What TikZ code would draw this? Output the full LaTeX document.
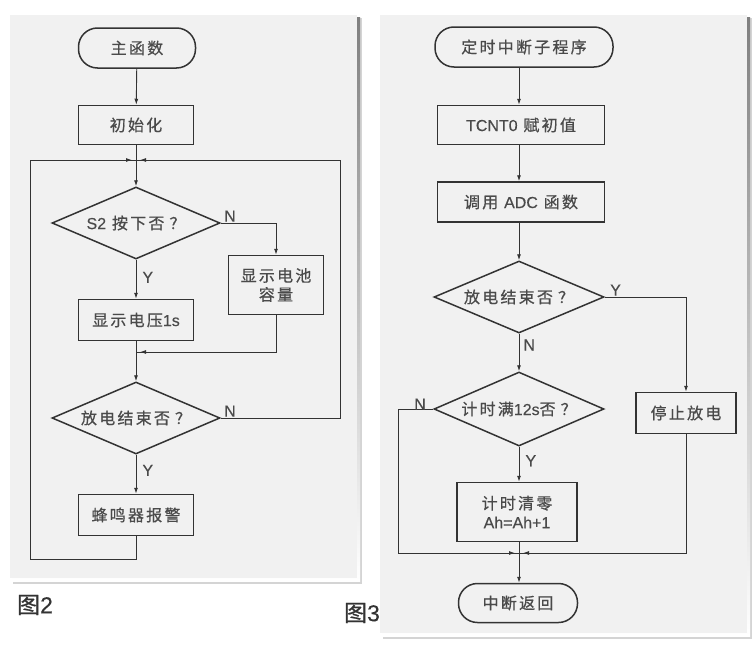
\documentclass[tikz,border=0pt]{standalone}
\usepackage{fontspec}
\setmainfont{Noto Sans CJK SC}[FakeBold=0.7, LetterSpace=14]
\newfontfamily\lat{Liberation Sans}[FakeBold=0.3]
\usetikzlibrary{arrows.meta,shapes.geometric,decorations.markings}
\definecolor{ink}{HTML}{333333}
\definecolor{txt}{HTML}{4A4A4A}
\definecolor{panelbg}{HTML}{F1F1F1}
\definecolor{shade}{HTML}{B8B8B8}
\newcommand{\qm}{\hspace{5pt}？}
\begin{document}
\begin{tikzpicture}[x=1pt,y=-1pt,
  every node/.style={font=\fontsize{16}{19}\selectfont, text=txt},
  proc/.style={draw=ink, line width=1.5pt, rectangle, inner sep=2pt, align=center},
  term/.style={draw=ink, line width=1.5pt, rectangle, rounded corners=19pt, minimum height=40pt, inner sep=2pt},
  dec/.style={draw=ink, line width=1.5pt, diamond, aspect=2.4, minimum width=168pt, minimum height=72pt, inner sep=0pt},
  conn/.style={draw=ink, line width=0.9pt},
  arr/.style={conn, -{Latex[length=6pt,width=4pt]}},
  tipend/.style={conn, postaction={decorate}, decoration={markings, mark=at position -4pt with {\arrow{Latex[length=6pt,width=4pt]}}}},
  lab/.style={font=\fontsize{16}{18}\selectfont\lat, inner sep=1pt},
  figcap/.style={font=\fontsize{23}{25}\selectfont, text=ink, inner sep=0pt}
]
\useasboundingbox (0,0) rectangle (755,653);
\fill[white] (0,0) rectangle (755,653);
% panels
\fill[shade!60] (13,18) rectangle (362,584);
\fill[shade] (12,17) rectangle (360,581);
\fill[panelbg] (10,15) rectangle (357,578);
\fill[shade!60] (383,18) rectangle (752,639);
\fill[shade] (382,17) rectangle (750,636);
\fill[panelbg] (380,15) rectangle (747,633);

% ---------- left chart
\node[term, minimum width=117pt] (main) at (137,48) {主函数};
\node[proc, minimum width=115pt, minimum height=39pt] (init) at (136,125) {初始化};
\coordinate (j1) at (136,160);
\node[dec] (d1) at (136,223) {{\lat S2} 按下否\qm};
\node[proc, minimum width=95pt, minimum height=59pt] (bat) at (276,285) {显示电池\\容量};
\node[proc, minimum width=115pt, minimum height=41pt] (volt) at (136,320) {显示电压{\lat 1s}};
\coordinate (j2) at (136,352);
\node[dec] (d2) at (136,418) {放电结束否\qm};
\node[proc, minimum width=115pt, minimum height=41pt] (buzz) at (136,515) {蜂鸣器报警};

\draw[arr] (main) -- (init);
\draw[arr] (init) -- (d1);
\draw[arr] (d1.east) node[lab, above right, xshift=2pt] {N} -| (bat);
\draw[arr] (d1) -- node[lab, right, xshift=5pt, pos=0.45] {Y} (volt);
\draw[tipend] (bat.south) |- (j2);
\draw[arr] (volt) -- (d2);
\draw[tipend] (d2.east) node[lab, above right, xshift=2pt] {N} -| (340,160) -- (j1);
\draw[arr] (d2) -- node[lab, right, xshift=5pt, pos=0.4] {Y} (buzz);
\draw[tipend] (buzz.south) |- (30,559) |- (j1);

\node[figcap] (c2) at (35,605) {图{\lat 2}};

% ---------- right chart
\node[term, minimum width=178pt] (start) at (524,47) {定时中断子程序};
\node[proc, minimum width=167pt, minimum height=39pt] (tc) at (521,125) {{\lat TCNT0} 赋初值};
\node[proc, minimum width=167pt, minimum height=40pt] (adc) at (521,202) {调用 {\lat ADC} 函数};
\node[dec, minimum width=170pt] (rd1) at (519,297) {放电结束否\qm};
\node[proc, minimum width=100pt, minimum height=41pt] (stop) at (686,413) {停止放电};
\node[dec, minimum width=170pt, minimum height=74pt] (rd2) at (519,409) {计时满{\lat 12s}否\qm};
\node[proc, minimum width=120pt, minimum height=59pt] (clr) at (517,512) {计时清零\\{\lat Ah=Ah+1}};
\coordinate (j3) at (519,553);
\node[term, minimum width=119pt, minimum height=39pt] (ret) at (518,603) {中断返回};

\draw[arr] (start.south -| rd1) -- (tc.north -| rd1);
\draw[arr] (tc.south -| rd1) -- (adc.north -| rd1);
\draw[arr] (adc.south -| rd1) -- (rd1);
\draw[arr] (rd1.east) node[lab, above right, xshift=4pt] {Y} -| (stop);
\draw[arr] (rd1) -- node[lab, right, xshift=3pt, pos=0.3] {N} (rd2);
\draw[arr] (rd2) -- node[lab, right, xshift=5pt, pos=0.4] {Y} (clr.north -| rd2);
\draw[tipend] (stop.south) |- (j3);
\draw[tipend] (rd2.west) node[lab, above left, xshift=-6pt, yshift=-2pt] {N} -| (398,553) -- (j3);
\draw[arr] (clr.south -| j3) -- (ret.north -| j3);

\node[figcap] (c3) at (362,613) {图{\lat 3}};
\end{tikzpicture}
\end{document}
